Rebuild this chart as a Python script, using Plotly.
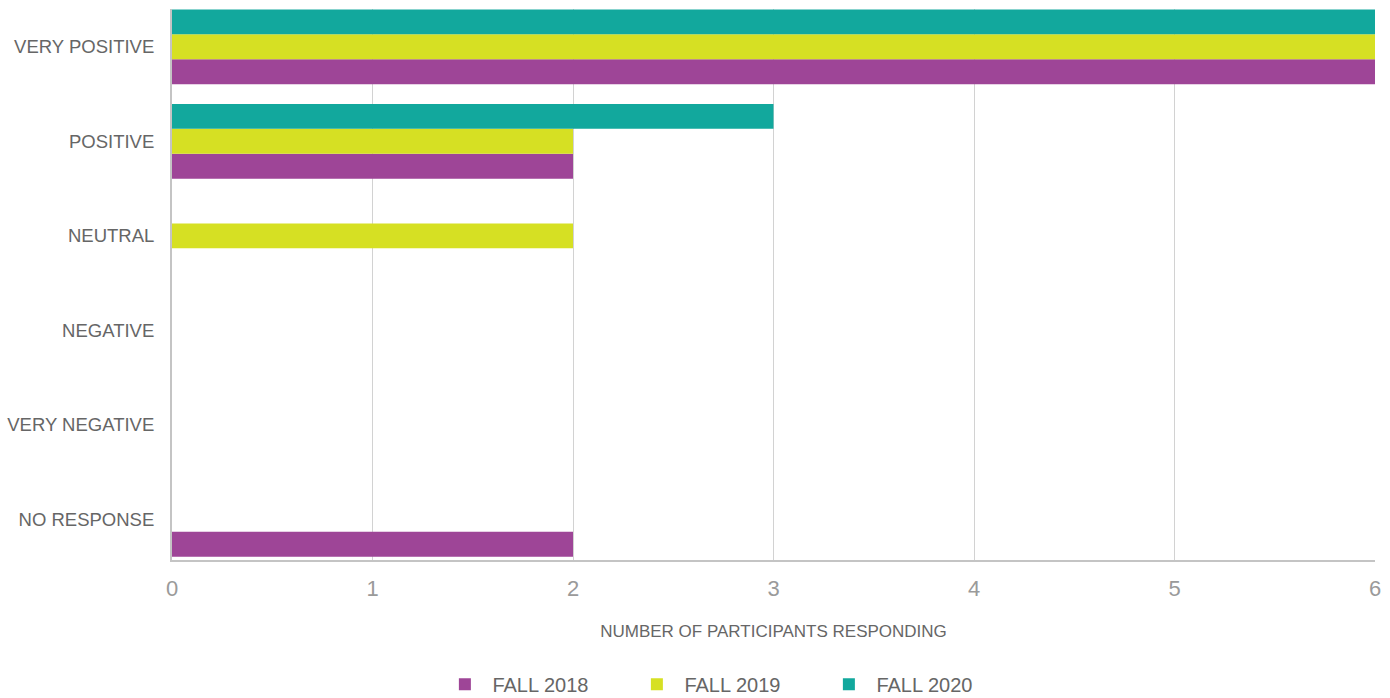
import plotly.graph_objects as go

# survey categories, top to bottom as shown
categories = ["VERY POSITIVE", "POSITIVE", "NEUTRAL", "NEGATIVE", "VERY NEGATIVE", "NO RESPONSE"]

fall_2018 = [6, 2, 0, 0, 0, 2]
fall_2019 = [6, 2, 2, 0, 0, 0]
fall_2020 = [6, 3, 0, 0, 0, 0]

series_names = ["FALL 2018", "FALL 2019", "FALL 2020"]
colors = ["#9e4597", "#d6e023", "#12a89d"]

x_ticks = [0, 1, 2, 3, 4, 5, 6]

fig = go.Figure()

for name, vals, col in zip(series_names, [fall_2018, fall_2019, fall_2020], colors):
    fig.add_trace(go.Bar(
        y=categories,
        x=vals,
        orientation="h",
        name=name,
        marker=dict(color=col, line=dict(width=0)),
    ))

font_family = "Liberation Sans, Arial, sans-serif"

fig.update_layout(
    barmode="group",
    bargap=0.21,
    bargroupgap=0,
    width=1390,
    height=698,
    margin=dict(l=172, r=15, t=9, b=138, autoexpand=False),
    plot_bgcolor="white",
    paper_bgcolor="white",
    font=dict(family=font_family, color="#666666"),
    xaxis=dict(
        range=[0, 6],
        tickvals=x_ticks,
        automargin=False,
        showgrid=True,
        gridcolor="#d2d2d2",
        gridwidth=1,
        zeroline=False,
        showline=True,
        linecolor="#c4c4c4",
        linewidth=2,
        ticks="",
        ticklabelstandoff=8,
        tickfont=dict(size=22, color="#9a9a9a"),
        title=dict(text="NUMBER OF PARTICIPANTS RESPONDING",
                   font=dict(size=17, color="#666666"), standoff=25),
    ),
    yaxis=dict(
        categoryorder="array",
        categoryarray=categories[::-1],
        range=[-0.43, 5.40],
        automargin=False,
        showgrid=False,
        zeroline=False,
        showline=True,
        linecolor="#c4c4c4",
        linewidth=2,
        ticks="",
        ticklabelstandoff=12,
        tickfont=dict(size=18.5, color="#666666"),
    ),
    legend=dict(
        orientation="h",
        x=0.46,
        xanchor="center",
        y=-0.19,
        yanchor="top",
        font=dict(size=20, color="#666666"),
        itemwidth=45,
        entrywidth=132,
        entrywidthmode="pixels",
    ),
    showlegend=True,
)

# drop the default body margin so the figure fills the window
fig.write_html("out.html", config={"displayModeBar": False},
               post_script="document.body.style.margin='0';")
